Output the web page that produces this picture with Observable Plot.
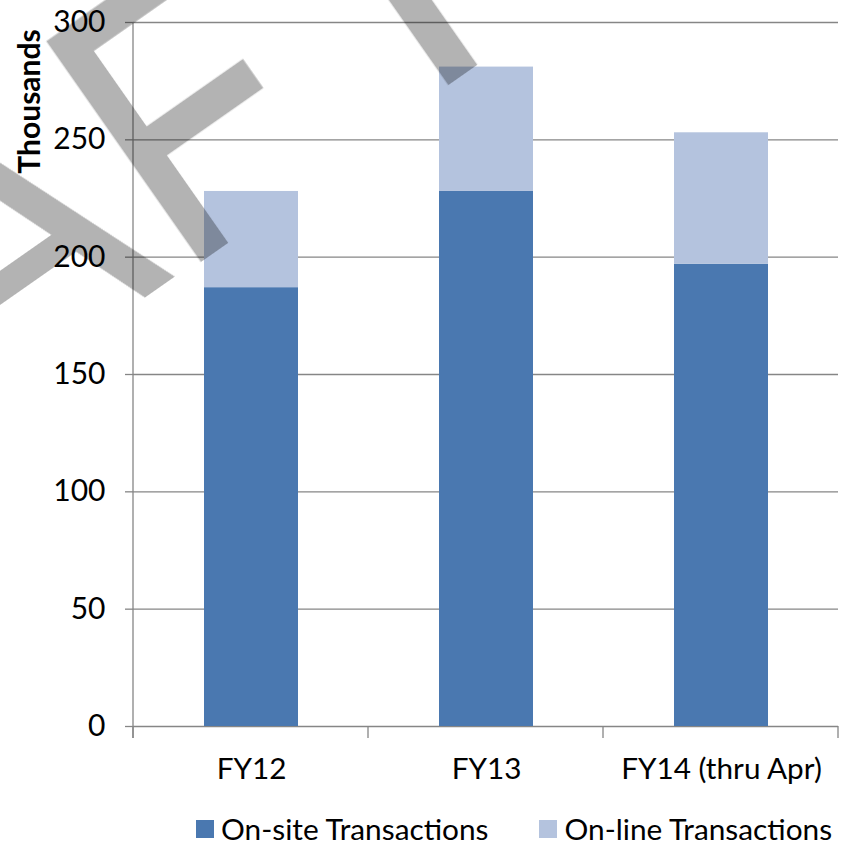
<!DOCTYPE html>
<html><head><meta charset="utf-8">
<script src="https://cdn.jsdelivr.net/npm/d3@7"></script>
<script src="https://cdn.jsdelivr.net/npm/@observablehq/plot@0.6"></script>
<style>
body{margin:0;background:#fff;font-family:Lato,"Open Sans",sans-serif;}
#wrap{position:relative;width:847px;height:846px;overflow:hidden;background:#fff;}
#chart{position:absolute;left:0;top:0;}
#legend{position:absolute;left:196px;top:812px;display:flex;gap:51px;font-family:Lato,sans-serif;font-size:29.8px;color:#000;line-height:34px;}
.item{display:flex;align-items:center;gap:7px;white-space:nowrap;}
.sw{width:18px;height:18px;display:inline-block;}
#wm{position:absolute;left:0;top:0;pointer-events:none;}
</style></head><body>
<div id="wrap"><div id="chart"></div><div id="legend"></div><svg id="wm" width="847" height="846"></svg></div>
<script>
const categories = ["FY12", "FY13", "FY14 (thru Apr)"];
const onsite = [187, 228, 197];
const online = [41, 53, 56];
const seriesNames = ["On-site Transactions", "On-line Transactions"];
const seriesColors = ["#4a78b0", "#b4c3de"];
const yTicks = [0, 50, 100, 150, 200, 250, 300];
const yTitle = "Thousands";
const watermark = ["DRA", "F", "T"]; // "DRAFT" watermark, drawn in three runs

const data = [];
categories.forEach((c, i) => {
  data.push({category: c, series: seriesNames[0], value: onsite[i]});
  data.push({category: c, series: seriesNames[1], value: online[i]});
});

const gridColor = "#868686";

function categoryTicks(index, scales, values, dims) {
  const {width, height, marginLeft, marginRight, marginTop, marginBottom} = dims;
  const n = categories.length;
  const step = (width - marginLeft - marginRight) / n;
  const y0 = height - marginBottom;
  const g = d3.create("svg:g").attr("stroke", gridColor).attr("stroke-width", 1.3);
  g.append("line").attr("x1", marginLeft).attr("x2", marginLeft).attr("y1", marginTop).attr("y2", y0 + 12);
  for (let i = 0; i <= n; i++) {
    const x = marginLeft + i * step;
    g.append("line").attr("x1", x).attr("x2", x).attr("y1", y0).attr("y2", y0 + 12);
  }
  return g.node();
}

const plot = Plot.plot({
  width: 847, height: 800,
  marginTop: 22, marginBottom: 74, marginLeft: 133, marginRight: 9,
  style: {fontFamily: "Lato, sans-serif", fontSize: "30px", color: "#000", background: "transparent", overflow: "visible"},
  x: {domain: categories, paddingInner: 0.6, paddingOuter: 0.3, label: null},
  y: {domain: [0, 300], label: null},
  color: {domain: seriesNames, range: seriesColors},
  marks: [
    Plot.ruleY(yTicks, {stroke: gridColor, strokeWidth: 1.3}),
    Plot.barY(data, Plot.stackY({x: "category", y: "value", fill: "series", order: seriesNames})),
    Plot.axisY(yTicks, {tickSize: 8, tickPadding: 20, stroke: gridColor, strokeWidth: 1.3, fill: "#000", fontSize: 30, label: null}),
    Plot.axisX({tickSize: 0, tickPadding: 31, fill: "#000", fontSize: 29.7, label: null}),
    categoryTicks,
    Plot.text([yTitle], {frameAnchor: "top-left", dx: -103, dy: 79, rotate: -90, fontWeight: "bold", fontSize: 30, textAnchor: "middle", lineAnchor: "middle", fill: "#000"})
  ]
});
document.getElementById("chart").appendChild(plot);

const legend = d3.select("#legend");
seriesNames.forEach((s, i) => {
  const it = legend.append("div").attr("class", "item");
  it.append("span").attr("class", "sw").style("background", seriesColors[i]);
  it.append("span").text(s);
});

// watermark overlay (translucent grey "DRAFT")
const fs = 383;
const g = d3.select("#wm").append("g")
  .attr("transform", "translate(-487,740) rotate(-35)")
  .attr("opacity", 0.3)
  .attr("font-family", "Liberation Sans, Arial, sans-serif")
  .attr("font-size", fs)
  .attr("fill", "#000");
const t1 = g.append("text").attr("x", 0).attr("y", 0).text(watermark[0]);
const L1 = t1.node().getComputedTextLength();
const t2 = g.append("text").attr("x", 0).attr("y", 0).text(watermark[1]);
const L2 = t2.node().getComputedTextLength();
const lsb = 0.082 * fs;
t2.attr("transform", `translate(${L1 + lsb},0) scale(0.8,1) translate(${-lsb},0)`)
  .attr("stroke", "#000").attr("stroke-width", 6);
g.append("text").attr("x", L1 + L2).attr("y", 0).text(watermark[2]);
</script>
</body></html>
